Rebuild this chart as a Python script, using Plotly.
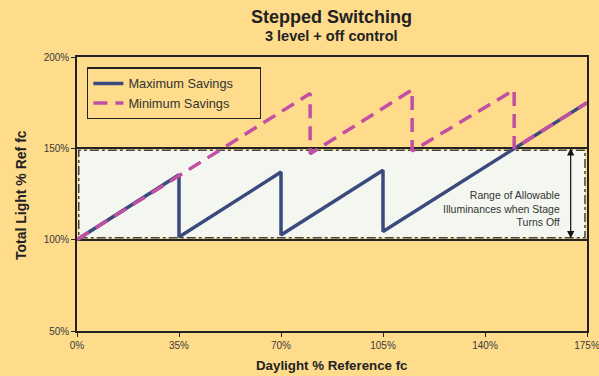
import plotly.graph_objects as go

# Data
max_x = [0, 35, 35, 70, 70, 105, 105, 175]
max_y = [100, 135.5, 101.5, 137, 102.5, 138, 104.5, 175]
min_x = [0, 80, 80, 115, 115, 150, 150, 175]
min_y = [100, 180, 147, 182, 148.5, 182, 150, 175]
x_ticks = [0, 35, 70, 105, 140, 175]
x_labels = ["0%", "35%", "70%", "105%", "140%", "175%"]
y_ticks = [50, 100, 150, 200]
y_labels = ["50%", "100%", "150%", "200%"]
band_low, band_high = 100, 150

BG = "#FEDC8C"
NAVY = "#3B4A7E"
MAGENTA = "#C24FA3"
FONT = "Liberation Sans, Arial, sans-serif"
NARROW = "Liberation Sans Narrow, Arial Narrow, Liberation Sans, sans-serif"
PAD = "\u00a0" * 6

fig = go.Figure()
fig.add_trace(go.Scatter(x=max_x, y=max_y, mode="lines", name="Maximum Savings" + PAD,
                         line=dict(color=NAVY, width=3.5)))
fig.add_trace(go.Scatter(x=min_x, y=min_y, mode="lines", name="Minimum Savings" + PAD,
                         line=dict(color=MAGENTA, width=3.5, dash="14px,8px")))

# Shaded band of allowable illuminances
fig.add_shape(type="rect", x0=0.6, x1=174.3, y0=band_low + 1, y1=band_high - 1,
              xref="x", yref="y", layer="below",
              fillcolor="#F3F7EF", line=dict(color="#444444", width=1.5, dash="dashdot"))

# Double-headed arrow
fig.add_annotation(x=169.4, y=band_high, ax=169.4, ay=band_low, xref="x", yref="y",
                   axref="x", ayref="y", text="", showarrow=True,
                   arrowhead=2, startarrowhead=2, arrowside="end+start",
                   arrowsize=1.2, startarrowsize=1.2, arrowwidth=1.2, arrowcolor="#111111")
fig.add_annotation(x=166.3, y=117, xref="x", yref="y", xanchor="right", yanchor="middle",
                   text="Range of Allowable<br>Illuminances when Stage<br>Turns Off",
                   align="right", showarrow=False,
                   font=dict(size=10.5, color="#333333", family=FONT))

# Titles
fig.add_annotation(x=0.4985, y=1.146, xref="paper", yref="paper", showarrow=False,
                   yanchor="middle",
                   text="<b>Stepped Switching</b>", font=dict(size=18, color="#222222", family=NARROW))
fig.add_annotation(x=0.4985, y=1.076, xref="paper", yref="paper", showarrow=False,
                   yanchor="middle",
                   text="<b>3 level + off control</b>", font=dict(size=14.5, color="#222222", family=NARROW))
fig.add_annotation(x=0.5, y=-0.125, xref="paper", yref="paper", showarrow=False,
                   yanchor="middle",
                   text="<b>Daylight % Reference fc</b>", font=dict(size=13.3, color="#222222", family=NARROW))
fig.add_annotation(x=-0.111, y=0.4976, xref="paper", yref="paper", showarrow=False, textangle=-90,
                   xanchor="center", yanchor="middle",
                   text="<b>Total Light % Ref fc</b>", font=dict(size=14, color="#222222", family=NARROW))

fig.update_layout(
    width=599, height=376,
    margin=dict(l=76.5, r=12, t=57, b=44.5, autoexpand=False),
    paper_bgcolor=BG, plot_bgcolor=BG,
    font=dict(family=FONT, color="#333333", size=9),
    showlegend=True,
    legend=dict(x=0.02, y=0.962, xanchor="left", yanchor="top",
                bgcolor="rgba(0,0,0,0)", bordercolor="#222222", borderwidth=1.2,
                font=dict(size=12.8, color="#333333", family=FONT),
                tracegroupgap=0, itemwidth=30),
)
fig.update_xaxes(range=[0, 175], tickvals=x_ticks, ticktext=x_labels,
                 showgrid=False, zeroline=False, automargin=False,
                 ticklabeloverflow="allow",
                 showline=True, linecolor="#222222", linewidth=1.5, mirror=True,
                 ticks="outside", ticklen=4, tickcolor="#222222", tickwidth=1.2,
                 tickfont=dict(size=10, color="#3a3a3a"))
fig.update_yaxes(range=[50, 200], tickvals=y_ticks, ticktext=y_labels,
                 showgrid=True, gridcolor="#222222", gridwidth=1.5, zeroline=False,
                 automargin=False, ticklabeloverflow="allow",
                 showline=True, linecolor="#222222", linewidth=1.5, mirror=True,
                 ticks="outside", ticklen=4, tickcolor="#222222", tickwidth=1.2,
                 tickfont=dict(size=10, color="#3a3a3a"))

fig.write_html("out.html", config={"displayModeBar": False},
               post_script="document.body.style.margin='0';document.body.style.overflow='hidden';")
